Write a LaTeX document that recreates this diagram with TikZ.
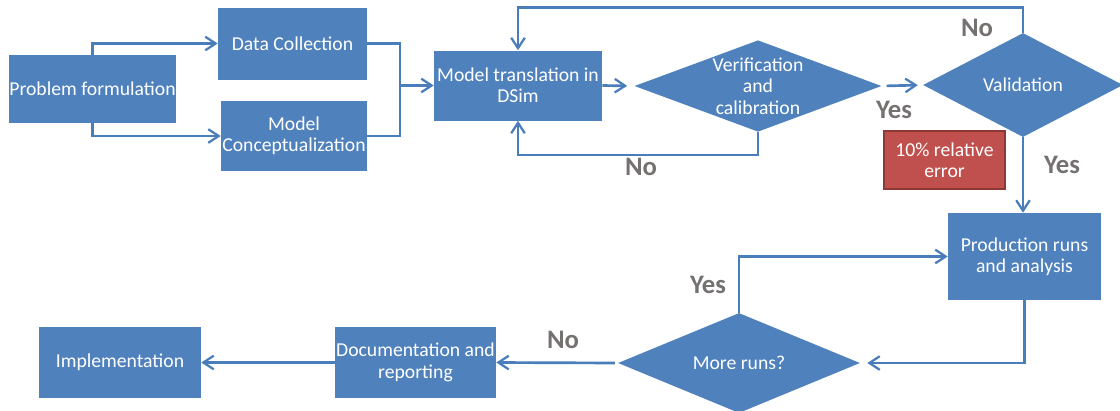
\documentclass[tikz,border=0pt]{standalone}
\usepackage{fontspec}
\setmainfont{Carlito}
\usetikzlibrary{positioning,arrows.meta,shapes.geometric,calc}
\definecolor{boxblue}{RGB}{79,129,189}
\definecolor{linkblue}{RGB}{74,126,187}
\definecolor{notered}{RGB}{192,80,77}
\definecolor{noteedge}{RGB}{140,56,54}
\definecolor{labelgray}{RGB}{118,113,113}
\tikzset{
  procbox/.style={rectangle,fill=boxblue,text=white,align=center,inner sep=0pt,font=\fontsize{14}{15.2}\selectfont},
  decide/.style={diamond,fill=boxblue,text=white,align=center,inner sep=0pt,aspect=2.6,font=\fontsize{14}{15.2}\selectfont},
  notebox/.style={rectangle,fill=notered,draw=noteedge,line width=1pt,text=white,align=center,inner sep=0pt,font=\fontsize{14}{15.2}\selectfont},
  answer/.style={text=labelgray,font=\fontsize{19}{20}\selectfont\bfseries},
  link/.style={draw=linkblue,line width=1.9pt},
  edge/.style={link,-{Straight Barb[length=2.6mm,width=3.4mm,line width=1.6pt]}}
}
\begin{document}
\begin{tikzpicture}[x=0.025cm,y=-0.025cm]
  \useasboundingbox (0,0) rectangle (1120,410);
  % top row
  \node[procbox,minimum width=167*0.025cm,minimum height=68*0.025cm] (prob) at (92.5,89) {Problem formulation};
  \node[procbox,minimum width=149*0.025cm,minimum height=72*0.025cm] (data) at (292.5,43.5) {Data Collection};
  \node[procbox,minimum width=146*0.025cm,minimum height=70*0.025cm] (concept) at (294,136) {Model\\Conceptualization};
  \node[procbox,minimum width=168*0.025cm,minimum height=70*0.025cm] (trans) at (518,85.5) {Model translation in\\DSim};
  \node[decide,minimum width=247*0.025cm,minimum height=90*0.025cm] (verif) at (758,86) {Verification\\and\\calibration};
  \node[decide,minimum width=200*0.025cm,minimum height=104*0.025cm] (valid) at (1023,85) {Validation};
  \node[notebox,minimum width=121*0.025cm,minimum height=58*0.025cm] (tol) at (944.5,160) {10\% relative\\error};
  % lower rows
  \node[procbox,minimum width=153*0.025cm,minimum height=87*0.025cm] (prod) at (1024.5,256.5) {Production runs\\and analysis};
  \node[decide,minimum width=242*0.025cm,minimum height=100*0.025cm] (runs) at (739,363) {More runs?};
  \node[procbox,minimum width=161*0.025cm,minimum height=71*0.025cm] (doc) at (415.5,362.5) {Documentation and\\reporting};
  \node[procbox,minimum width=162*0.025cm,minimum height=71*0.025cm] (impl) at (120,362.5) {Implementation};
  \coordinate (join) at (400,85.5);
  % connectors
  \draw[edge] (prob.north) |- (data.west);
  \draw[edge] (prob.south) |- (concept.west);
  \draw[link] (data.east) -| (join) |- (concept.east);
  \draw[edge] (join) -- (trans.west);
  \draw[edge,shorten >=5pt] (trans.east) -- (verif.west);
  \draw[edge] (verif.south) -- ++(0,23) -| (trans.south);
  \draw[edge,shorten <=3.5pt,shorten >=3.5pt] (verif.east) -- (valid.west);
  \draw[edge] (valid.north) -- ++(0,-25) -| (trans.north);
  \draw[edge] (valid.south) -- (valid.south |- prod.north);
  \draw[edge,shorten >=5pt] (prod.south) |- (runs.east);
  \draw[edge] (runs.north) |- (prod.west);
  \draw[edge,shorten <=2pt] (runs.west) -- (doc.east);
  \draw[edge] (doc.west) -- (impl.east);
  % answers
  \node[answer] (noval) at (977,28) {No};
  \node[answer] (yesver) at (894,110) {Yes};
  \node[answer] (yesval) at (1062,165) {Yes};
  \node[answer] (nover) at (641,167) {No};
  \node[answer] (yesruns) at (708,285) {Yes};
  \node[answer] (noruns) at (563,340) {No};
\end{tikzpicture}
\end{document}
